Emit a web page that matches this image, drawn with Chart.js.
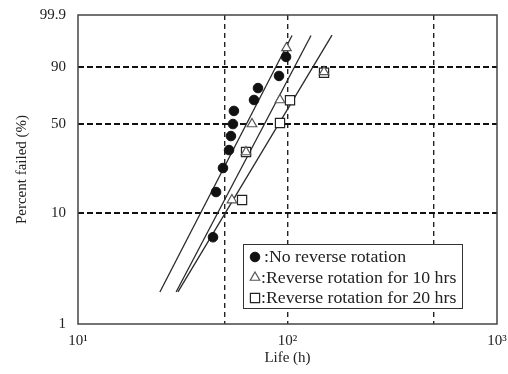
<!DOCTYPE html>
<html><head><meta charset="utf-8">
<script src="https://cdn.jsdelivr.net/npm/chart.js@4.4.0/dist/chart.umd.min.js"></script>
<style>html,body{margin:0;padding:0;background:#fff;}#wrap{width:508px;height:374px;}</style>
</head><body><div id="wrap"><canvas id="c" width="508" height="374"></canvas></div>
<script>
// ---- data ----
const seriesNames = [':No reverse rotation', ':Reverse rotation for 10 hrs', ':Reverse rotation for 20 hrs'];
const noRevLife = [44.1, 45.6, 49.2, 52.6, 53.7, 54.9, 55.5, 69.2, 72.3, 91.1, 98.4];
const noRevPct  = [6.1, 15.1, 23.8, 32.8, 41.4, 49.8, 59.7, 68.2, 77.1, 85.1, 94.2];
const rev10Life = [54.3, 63.4, 67.7, 92.1, 98.9, 149.4];
const rev10Pct  = [12.9, 31.7, 49.8, 68.2, 96.8, 87.4];
const rev20Life = [60.7, 63.4, 92.1, 102.8, 149.4];
const rev20Pct  = [12.9, 31.7, 50.5, 68.0, 87.0];
const fitLifeStart = [24.6, 29.4, 30.0];
const fitLifeEnd   = [105.1, 129.5, 163.1];
const fitPctStart  = [1.96, 1.96, 1.96];
const fitPctEnd    = [98.87, 98.87, 98.9];
const xTickVals   = [10, 100, 1000];
const xTickLabels = ['10\u00B9', '10\u00B2', '10\u00B3'];
const xGridVals   = [50, 100, 500];
const yTickPct    = [1, 10, 50, 90, 99.9];
const yTickLabels = ['1', '10', '50', '90', '99.9'];
const yGridPct    = [10, 50, 90];

// Weibull probability transform
const w = p => Math.log(-Math.log(1 - p / 100));
const pts = (xs, ps) => xs.map((x, i) => ({x: x, y: w(ps[i])}));

const SERIF = "'Liberation Serif', 'Times New Roman', serif";

const markerStyles = [
  {pointStyle: 'circle', radius: 4.8, bg: '#111', border: '#111', bw: 1},
  {pointStyle: 'triangle', radius: 5.5, bg: '#fff', border: '#555', bw: 1.2},
  {pointStyle: 'rect', radius: 6.5, bg: '#fff', border: '#222', bw: 1.2}
];

const datasets = [];
[[noRevLife, noRevPct], [rev10Life, rev10Pct], [rev20Life, rev20Pct]].forEach((s, i) => {
  const m = markerStyles[i];
  datasets.push({
    label: seriesNames[i], data: pts(s[0], s[1]), showLine: false,
    pointStyle: m.pointStyle, pointRadius: m.radius, pointBackgroundColor: m.bg,
    pointBorderColor: m.border, pointBorderWidth: m.bw, order: i === 0 ? 1 : (i === 1 ? 2 : 3)
  });
});
fitLifeStart.forEach((x0, i) => {
  datasets.push({
    label: 'fit' + i,
    data: [{x: x0, y: w(fitPctStart[i])}, {x: fitLifeEnd[i], y: w(fitPctEnd[i])}],
    showLine: true, pointRadius: 0, borderColor: '#2a2a2a', borderWidth: 1.3, order: 10
  });
});

const framePlugin = {
  id: 'frame',
  afterDraw(chart) {
    const ctx = chart.ctx, a = chart.chartArea;
    ctx.save();
    ctx.strokeStyle = '#444'; ctx.lineWidth = 1.5;
    ctx.strokeRect(a.left, a.top, a.right - a.left, a.bottom - a.top);
    // legend box
    const lx = a.left + 165, ly = a.top + 229, lw = 219, lh = 64;
    ctx.fillStyle = '#fff';
    ctx.fillRect(lx, ly, lw, lh);
    ctx.strokeStyle = '#333'; ctx.lineWidth = 1;
    ctx.strokeRect(lx + 0.5, ly + 0.5, lw, lh);
    ctx.font = '16px ' + SERIF;
    ctx.textBaseline = 'middle'; ctx.textAlign = 'left';
    for (let i = 0; i < 3; i++) {
      const m = markerStyles[i];
      const cy = ly + 13 + i * 20.5, cx = lx + 12;
      ctx.beginPath();
      ctx.lineWidth = m.bw; ctx.strokeStyle = m.border; ctx.fillStyle = m.bg;
      if (m.pointStyle === 'circle') {
        ctx.arc(cx, cy, m.radius, 0, Math.PI * 2);
      } else if (m.pointStyle === 'triangle') {
        const r = m.radius;
        ctx.moveTo(cx, cy - r); ctx.lineTo(cx + r * 0.866, cy + r * 0.5); ctx.lineTo(cx - r * 0.866, cy + r * 0.5); ctx.closePath();
      } else {
        const s = m.radius * Math.SQRT1_2;
        ctx.rect(cx - s, cy - s, 2 * s, 2 * s);
      }
      ctx.fill(); ctx.stroke();
      ctx.fillStyle = '#222';
      ctx.save();
      ctx.translate(lx + (i === 0 ? 21 : 18), cy + 1);
      ctx.scale(1.11, 1);
      ctx.fillText(seriesNames[i], 0, 0);
      ctx.restore();
    }
    ctx.restore();
  }
};

const zeroPad = s => { s.paddingTop = 0; s.paddingBottom = 0; s.paddingLeft = 0; s.paddingRight = 0; };

new Chart(document.getElementById('c'), {
  type: 'scatter',
  data: {datasets: datasets},
  options: {
    responsive: false, animation: false, devicePixelRatio: 1,
    layout: {padding: {left: 0, right: 11, top: 15, bottom: 0}},
    plugins: {legend: {display: false}, tooltip: {enabled: false}},
    scales: {
      x: {
        type: 'logarithmic', min: 10, max: 1000,
        afterBuildTicks: s => { s.ticks = [10, 50, 100, 500, 1000].map(v => ({value: v})); },
        afterFit: s => { s.height = 50; zeroPad(s); },
        ticks: {
          autoSkip: false, maxRotation: 0, padding: 8, color: '#222',
          font: {family: SERIF, size: 15},
          callback: v => { const k = xTickVals.indexOf(v); return k >= 0 ? xTickLabels[k] : ''; }
        },
        grid: {
          drawTicks: false, lineWidth: 1.4,
          color: c => (c.tick && xGridVals.includes(c.tick.value)) ? '#222' : 'rgba(0,0,0,0)'
        },
        border: {display: false, dash: [5, 4]},
        title: {display: true, text: 'Life (h)', color: '#222', font: {family: SERIF, size: 15}, padding: {top: 0, bottom: 7}}
      },
      y: {
        type: 'linear', min: w(1), max: w(99.9),
        afterBuildTicks: s => { s.ticks = yTickPct.map(p => ({value: w(p)})); },
        afterFit: s => { s.width = 78; zeroPad(s); },
        ticks: {
          autoSkip: false, padding: 12, color: '#222',
          font: {family: SERIF, size: 15},
          callback: (v, i) => yTickLabels[i]
        },
        grid: {
          drawTicks: false, lineWidth: 2,
          color: c => yGridPct.includes(yTickPct[c.index]) ? '#111' : 'rgba(0,0,0,0)'
        },
        border: {display: false, dash: [6, 3]},
        title: {display: true, text: 'Percent failed (%)', color: '#222', font: {family: SERIF, size: 15}, padding: {top: 13, bottom: 0}}
      }
    }
  },
  plugins: [framePlugin]
});
</script></body></html>
